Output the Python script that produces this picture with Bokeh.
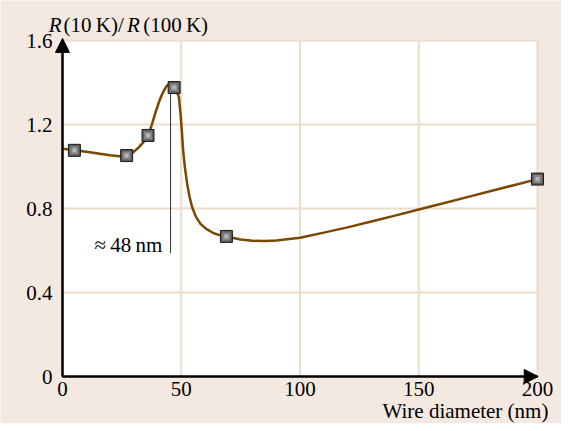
from bokeh.plotting import figure
from bokeh.models import Label, Arrow, NormalHead, FixedTicker, LinearAxis
from bokeh.embed import file_html
from bokeh.resources import INLINE

# measured points
pt_x = [5, 27, 36, 47, 69, 200]
pt_y = [1.077, 1.052, 1.148, 1.376, 0.667, 0.94]

# smooth curve
curve_x = [0, 5, 10, 15, 20, 25, 27, 30, 32, 34, 36, 37.5, 39.2, 40.6, 41.7, 42.7, 43.7, 44.8, 45.8, 47,
           48, 49, 49.7, 50.3, 50.8, 51.6, 52.5, 53.5, 54.6, 56.2, 58.1, 60.5, 63.7, 66.5, 69,
           75, 80, 85, 90, 100, 110, 120, 130, 140, 150, 160, 170, 180, 190, 200]
curve_y = [1.085, 1.077, 1.07, 1.062, 1.054, 1.048, 1.052, 1.07, 1.09, 1.115, 1.148, 1.195, 1.259, 1.306, 1.338, 1.362, 1.38, 1.392, 1.393, 1.378,
           1.362, 1.33, 1.25, 1.16, 1.076, 0.99, 0.917, 0.855, 0.806, 0.76, 0.727, 0.703, 0.682, 0.672, 0.667,
           0.652, 0.646, 0.645, 0.648, 0.661, 0.685, 0.71, 0.738, 0.766, 0.795, 0.824, 0.853, 0.882, 0.911, 0.94]

x_ticks = [0, 50, 100, 150, 200]
y_ticks = [0, 0.4, 0.8, 1.2, 1.6]
y_tick_labels = {0: "0", 0.4: "0.4", 0.8: "0.8", 1.2: "1.2", 1.6: "1.6"}

marker_x = 45.5
marker_y0 = 0.587
marker_y1 = 1.376
marker_text = "\u2248\u200948\u2009nm"
x_label = "Wire diameter (nm)"
title_parts = [("R", "italic"), ("(10\u2009K)/", "normal"), ("R", "italic"), ("(100\u2009K)", "normal")]
title_x = [-5.8, 0.45, 27.2, 34.0]

BG = "#f3e9e0"
GRID = "#ecdccb"
CURVE = "#7a4800"
FONT = "Liberation Serif"
FS = "21px"

W, H = 561, 423
FL, FT = 62, 40          # pixel position of data origin box (left, top)
PX = 475 / 200.0         # pixels per x unit
PY = 336 / 1.6           # pixels per y unit
x0, x1 = min(x_ticks), max(x_ticks)
y0, y1 = min(y_ticks), max(y_ticks)
xr = (x0 - FL / PX, x0 + (W - FL) / PX)
y_bottom_px = FT + (y1 - y0) * PY
yr = (y0 - (H - y_bottom_px) / PY, y0 + y_bottom_px / PY)

p = figure(width=W, height=H, x_range=xr, y_range=yr,
           output_backend="svg", toolbar_location=None,
           x_axis_location=None, y_axis_location=None,
           min_border_left=0, min_border_right=0, min_border_top=0, min_border_bottom=0)
p.border_fill_color = BG
p.background_fill_color = BG
p.outline_line_color = None
p.xgrid.visible = False
p.ygrid.visible = False

# white plot box
p.quad(left=[x0], right=[x1], bottom=[y0], top=[y1], fill_color="white", line_color=GRID, line_width=2)

# grid lines
gx = [t for t in x_ticks if x0 < t < x1]
gy = [t for t in y_ticks if y0 < t < y1]
p.segment(x0=gx, y0=[y0] * len(gx), x1=gx, y1=[y1] * len(gx), line_color=GRID, line_width=2)
p.segment(x0=[x0] * len(gy), y0=gy, x1=[x1] * len(gy), y1=gy, line_color=GRID, line_width=2)

xax = LinearAxis(fixed_location=y0, ticker=FixedTicker(ticks=x_ticks), bounds=(x0, x1))
yax = LinearAxis(fixed_location=x0, ticker=FixedTicker(ticks=y_ticks), bounds=(y0, y1),
                 major_label_overrides=y_tick_labels)
for ax in (xax, yax):
    ax.major_tick_out = 0
    ax.major_tick_in = 0
    ax.minor_tick_out = 0
    ax.minor_tick_in = 0
    ax.axis_line_color = "black"
    ax.axis_line_width = 2
    ax.major_label_text_font = FONT
    ax.major_label_text_font_size = FS
    ax.major_label_text_color = "black"
xax.major_label_standoff = 5
yax.major_label_standoff = 10
p.add_layout(xax, "below")
p.add_layout(yax, "left")

p.line(curve_x, curve_y, line_color=CURVE, line_width=2.5)

# annotation line
p.segment(x0=[marker_x], y0=[marker_y0], x1=[marker_x], y1=[marker_y1], line_color="#333333", line_width=1)
p.add_layout(Label(x=marker_x - 3.5, y=0.624, text=marker_text, text_font=FONT, text_font_size=FS,
                   text_align="right", text_baseline="middle", text_color="black"))

# markers with pseudo gradient
p.scatter(pt_x, pt_y, marker="square", size=12, fill_color="#5c5c5c", line_color="#1a1a1a", line_width=1)
p.scatter(pt_x, pt_y, marker="square", size=8, fill_color="#858585", line_color=None)
p.scatter(pt_x, pt_y, marker="square", size=4, fill_color="#b5b5b5", line_color=None)

# axis arrows
p.add_layout(Arrow(end=NormalHead(size=14, fill_color="black", line_color="black"),
                   x_start=x0, y_start=y0, x_end=x0, y_end=y1 + 0.01, line_width=2, line_color="black"))
p.add_layout(Arrow(end=NormalHead(size=14, fill_color="black", line_color="black"),
                   x_start=x0, y_start=y0, x_end=x1 + 0.3, y_end=y0, line_width=2, line_color="black"))

# title pieces
ty = 1.676
for xx, (txt, style) in zip(title_x, title_parts):
    p.add_layout(Label(x=xx, y=ty, text=txt, text_font=FONT, text_font_size=FS,
                       text_font_style=style, text_baseline="middle", text_color="black"))

p.add_layout(Label(x=204.6, y=-0.162, text=x_label, text_font=FONT, text_font_size=FS,
                   text_align="right", text_baseline="middle", text_color="black"))

open("out.html", "w").write(file_html(p, INLINE))
